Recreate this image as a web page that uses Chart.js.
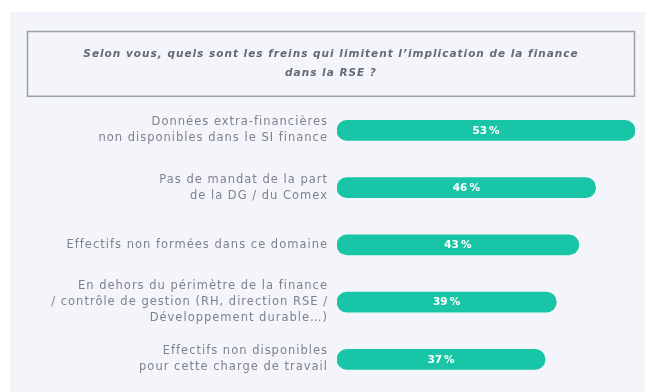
<!DOCTYPE html>
<html lang="fr">
<head>
<meta charset="utf-8">
<title>Freins à l'implication de la finance dans la RSE</title>
<script src="https://cdn.jsdelivr.net/npm/chart.js@4/dist/chart.umd.min.js"></script>
<style>
  html, body { margin: 0; padding: 0; background: #ffffff; }
  body { width: 645px; height: 392px; position: relative; overflow: hidden; }
  #panel {
    position: absolute; left: 10px; top: 12px; right: 0; bottom: 0;
    background: #f3f5fb;
  }
  #wrap { position: absolute; left: 0; top: 0; width: 645px; height: 392px; }
</style>
</head>
<body>
<div id="panel"></div>
<div id="wrap"><canvas id="freins-chart"></canvas></div>
<script>
"use strict";

// libellés (une ligne par élément du tableau)
const categories = [
  ["Données extra-financières", "non disponibles dans le SI finance"],
  ["Pas de mandat de la part", "de la DG / du Comex"],
  ["Effectifs non formées dans ce domaine"],
  ["En dehors du périmètre de la finance", "/ contrôle de gestion (RH, direction RSE /", "Développement durable…)"],
  ["Effectifs non disponibles", "pour cette charge de travail"],
];
const values = [53, 46, 43, 39, 37];
const titleLines = [
  "Selon vous, quels sont les freins qui limitent l’implication de la finance",
  "dans la RSE ?",
];

const TEAL = "#19c5a7";
const LABEL_GREY = "#7f818e";
const TITLE_GREY = "#656875";
const BOX_GREY = "#9c9ea8";

// texte un peu espacé, comme la typo de la charte
const trackingPlugin = {
  id: "tracking",
  beforeDraw(chart) {
    chart.ctx.letterSpacing = "1px";
  },
};

// cadre gris autour du titre
const titleBoxPlugin = {
  id: "titleBox",
  afterDraw(chart) {
    const t = chart.titleBlock;
    if (!t) return;
    const ctx = chart.ctx;
    ctx.save();
    ctx.strokeStyle = BOX_GREY;
    ctx.lineWidth = 1.5;
    ctx.strokeRect(t.left + 0.5, t.top + 0.5, t.width - 1, t.height - 6);
    ctx.restore();
  },
};

// pourcentage blanc au milieu de chaque barre
const valueLabelPlugin = {
  id: "valueLabels",
  afterDatasetsDraw(chart) {
    const ctx = chart.ctx;
    const meta = chart.getDatasetMeta(0);
    ctx.save();
    ctx.letterSpacing = "0px";
    ctx.fillStyle = "#ffffff";
    ctx.font = "bold 10.5px 'DejaVu Sans', sans-serif";
    ctx.textAlign = "center";
    ctx.textBaseline = "middle";
    meta.data.forEach((bar, i) => {
      const v = chart.data.datasets[0].data[i];
      ctx.fillText(`${v}\u202F%`, (bar.base + bar.x) / 2, bar.y + 0.5);
    });
    ctx.restore();
  },
};

const chart = new Chart(document.getElementById("freins-chart"), {
  type: "bar",
  data: {
    labels: categories,
    datasets: [
      {
        data: values,
        backgroundColor: TEAL,
        borderRadius: 10,
        borderSkipped: false,
        barThickness: 20,
      },
    ],
  },
  options: {
    indexAxis: "y",
    responsive: true,
    maintainAspectRatio: false,
    animation: false,
    layout: { padding: { top: 31, left: 27, right: 10, bottom: 4 } },
    scales: {
      x: {
        display: false,
        min: 0,
        max: Math.max(...values),
      },
      y: {
        grid: { display: false, drawTicks: false },
        border: { display: false },
        afterFit: (scale) => {
          // les barres commencent à x = 337, et pas de marge pour les libellés
          scale.width = 310;
          scale.paddingTop = 0;
          scale.paddingBottom = 0;
        },
        ticks: {
          color: LABEL_GREY,
          padding: 9,
          font: { family: "'DejaVu Sans', sans-serif", size: 11.5, lineHeight: 1.4 },
        },
      },
    },
    plugins: {
      legend: { display: false },
      tooltip: { enabled: false },
      title: {
        display: true,
        text: titleLines,
        color: TITLE_GREY,
        padding: { top: 14, bottom: 19 },
        font: { family: "'DejaVu Sans', sans-serif", size: 10.5, weight: "bold", style: "italic", lineHeight: 1.8 },
      },
    },
  },
  plugins: [trackingPlugin, titleBoxPlugin, valueLabelPlugin],
});
</script>
</body>
</html>
